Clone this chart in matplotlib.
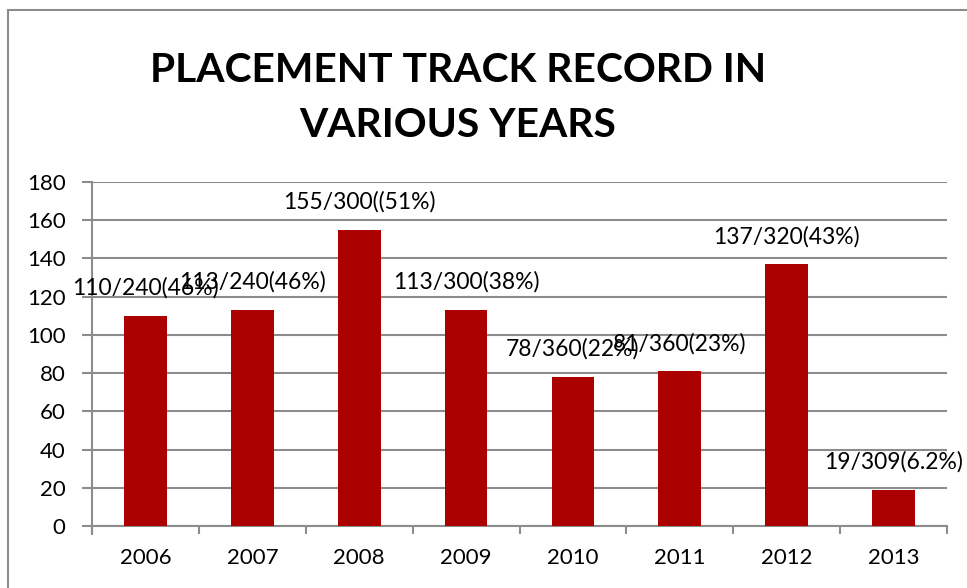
import numpy as np
import matplotlib.pyplot as plt
from matplotlib.patches import Rectangle

years = ["2006", "2007", "2008", "2009", "2010", "2011", "2012", "2013"]
placed = [110, 113, 155, 113, 78, 81, 137, 19]
bar_labels = ["110/240(46%)", "113/240(46%)", "155/300((51%)", "113/300(38%)",
              "78/360(22%)", "81/360(23%)", "137/320(43%)", "19/309(6.2%)"]

plt.rcParams['font.family'] = ['Lato', 'DejaVu Sans']
grey = '#8c8c8c'

fig = plt.figure(figsize=(9.67, 5.88), dpi=100)
ax = fig.add_axes([92 / 967, 1 - 526 / 588, 855 / 967, 344 / 588])

x = np.arange(len(years))
ax.bar(x, placed, width=0.4, color='#aa0000', zorder=3)

# value labels sit above each bar (they overlap in the original too)
for xi, v, lab in zip(x, placed, bar_labels):
    ax.annotate(lab, (xi, v), xytext=(0, 20), textcoords='offset points',
                ha='center', va='center', fontsize=16.5, color='black', zorder=4)

ax.set_xlim(-0.5, len(years) - 0.5)
ax.set_ylim(0, 180)
ax.set_yticks(np.arange(0, 181, 20))
ax.grid(axis='y', color=grey, linewidth=1.5, zorder=0)

ax.set_xticks(x)
ax.set_xticklabels(years)
ax.set_xticks(np.arange(-0.5, len(years), 1), minor=True)
ax.tick_params(axis='x', which='major', length=0, pad=16, labelsize=16)
ax.tick_params(axis='x', which='minor', length=6, width=1.5, color=grey)
ax.tick_params(axis='y', length=7, width=1.5, color=grey, pad=12, labelsize=16)

for s in ['top', 'right']:
    ax.spines[s].set_visible(False)
for s in ['left', 'bottom']:
    ax.spines[s].set_color(grey)
    ax.spines[s].set_linewidth(1.5)
ax.spines['left'].set_bounds(-4, 180)

fig.text(458 / 967, 1 - 98 / 588, "PLACEMENT TRACK RECORD IN\nVARIOUS YEARS",
         ha='center', va='center', fontsize=29.3, fontweight='bold',
         linespacing=1.6)

fig.patches.append(Rectangle((8 / 967, -0.1), 1.1, 1 - 10 / 588 + 0.1,
                             transform=fig.transFigure, fill=False,
                             edgecolor=grey, linewidth=1.5))

fig.savefig('out.png', dpi=100)
